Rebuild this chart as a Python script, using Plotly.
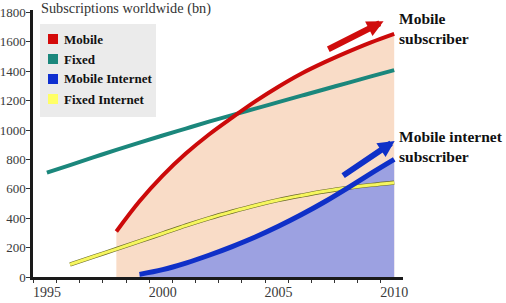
import plotly.graph_objects as go

# ---------------- data ----------------
mobile_years = list(range(1998, 2011))
mobile = [310, 515, 690, 840, 970, 1085, 1195, 1295, 1385, 1462, 1532, 1597, 1655]

fixed_years = list(range(1995, 2011))
fixed = [710, 762, 814, 865, 915, 963, 1010, 1057, 1102, 1146, 1190, 1234, 1278, 1321, 1365, 1408]

mobile_int_years = list(range(1999, 2011))
mobile_internet = [18, 50, 95, 148, 207, 272, 345, 425, 512, 607, 705, 800]

fixed_int_years = list(range(1996, 2011))
fixed_internet = [85, 138, 190, 243, 296, 350, 400, 445, 487, 524, 555, 583, 607, 626, 642]

legend_names = ["Mobile", "Fixed", "Mobile Internet", "Fixed Internet"]
legend_colors = ["#d40a0a", "#1b877c", "#0f2fd0", "#ffff66"]

x_ticks = [1995, 2000, 2005, 2010]
y_ticks = list(range(0, 1801, 200))

title_text = "Subscriptions worldwide (bn)"
label_mobile = "Mobile<br>subscriber"
label_mobile_int = "Mobile internet<br>subscriber"

# arrows (tail -> head) in data units
red_arrow = dict(tail=(2007.09, 1545), head=(2009.54, 1740))
blue_arrow = dict(tail=(2007.73, 683), head=(2010.02, 926))

# ---------------- layout geometry ----------------
W, H = 506, 303
L, R, T, B = 33, 103, 10, 26
PW, PH = W - L - R, H - T - B


def px(xp):
    return (xp - L) / PW


def py(yp):
    return (H - B - yp) / PH


SERIF = "Liberation Serif"

RED = "#cc0a0a"
TEAL = "#1b877c"
BLUE = "#0f30c8"
YELLOW = "#f6f65e"
YELLOW_EDGE = "#6a6a28"
PEACH = "#f9dcc7"
PERI = "#9ca1e1"

fig = go.Figure()

# fills
fig.add_trace(go.Scatter(x=mobile_years, y=mobile, mode="lines", line=dict(width=0, shape="spline"),
                         fill="tozeroy", fillcolor=PEACH, showlegend=False, hoverinfo="skip"))
fig.add_trace(go.Scatter(x=mobile_int_years, y=mobile_internet, mode="lines", line=dict(width=0, shape="spline"),
                         fill="tozeroy", fillcolor=PERI, showlegend=False, hoverinfo="skip"))

# lines
fig.add_trace(go.Scatter(x=fixed_years, y=fixed, mode="lines", name="Fixed",
                         line=dict(color=TEAL, width=4, shape="spline"), showlegend=False))
fig.add_trace(go.Scatter(x=fixed_int_years, y=fixed_internet, mode="lines",
                         line=dict(color=YELLOW_EDGE, width=4.2, shape="spline"), showlegend=False, hoverinfo="skip"))
fig.add_trace(go.Scatter(x=fixed_int_years, y=fixed_internet, mode="lines", name="Fixed Internet",
                         line=dict(color=YELLOW, width=3, shape="spline"), showlegend=False))
fig.add_trace(go.Scatter(x=mobile_years, y=mobile, mode="lines", name="Mobile",
                         line=dict(color=RED, width=4, shape="spline"), showlegend=False))
fig.add_trace(go.Scatter(x=mobile_int_years, y=mobile_internet, mode="lines", name="Mobile Internet",
                         line=dict(color=BLUE, width=5, shape="spline"), showlegend=False))

shapes = []
annotations = []

# manual legend
shapes.append(dict(type="rect", xref="paper", yref="paper",
                   x0=px(40), x1=px(156), y0=py(117), y1=py(24),
                   fillcolor="#ebebeb", line=dict(width=0), layer="above"))
for i, (name, col) in enumerate(zip(legend_names, legend_colors)):
    cy = 39 + 20 * i
    shapes.append(dict(type="rect", xref="paper", yref="paper",
                       x0=px(48), x1=px(58), y0=py(cy + 5), y1=py(cy - 5),
                       fillcolor=col, line=dict(width=0), layer="above"))
    annotations.append(dict(xref="paper", yref="paper", x=px(62), y=py(cy),
                            xanchor="left", yanchor="middle", showarrow=False,
                            text="<b>%s</b>" % name,
                            font=dict(family=SERIF, size=13, color="#111")))

# title
annotations.append(dict(xref="paper", yref="paper", x=px(39), y=py(8.5),
                        xanchor="left", yanchor="middle", showarrow=False,
                        text=title_text, font=dict(family=SERIF, size=14.3, color="#333")))

# right labels
annotations.append(dict(xref="paper", yref="paper", x=px(397), y=py(29),
                        xanchor="left", yanchor="middle", align="left", showarrow=False,
                        text="<b>%s</b>" % label_mobile,
                        font=dict(family=SERIF, size=15.5, color="#111")))
annotations.append(dict(xref="paper", yref="paper", x=px(397), y=py(146.5),
                        xanchor="left", yanchor="middle", align="left", showarrow=False,
                        text="<b>%s</b>" % label_mobile_int,
                        font=dict(family=SERIF, size=15.5, color="#111")))

# arrows
for arr, col in ((red_arrow, "#d00d0d"), (blue_arrow, "#0f30c8")):
    annotations.append(dict(xref="x", yref="y", axref="x", ayref="y",
                            x=arr["head"][0], y=arr["head"][1],
                            ax=arr["tail"][0], ay=arr["tail"][1],
                            text="", showarrow=True, arrowhead=2, arrowsize=0.55,
                            arrowwidth=6, arrowcolor=col, standoff=0, startstandoff=0))

fig.update_layout(
    width=W, height=H,
    margin=dict(l=L, r=R, t=T, b=B, pad=0, autoexpand=False),
    paper_bgcolor="white", plot_bgcolor="white",
    showlegend=False,
    shapes=shapes, annotations=annotations,
    font=dict(family=SERIF, size=14, color="#333"),
)

fig.update_xaxes(range=[1994.4, 2010.38], tickvals=x_ticks, ticktext=[str(v) for v in x_ticks],
                 automargin=False,
                 ticks="", ticklen=0,
                 minor=dict(ticks="outside", tick0=1995.42, dtick=1, ticklen=3, tickcolor="#333", tickwidth=1),
                 showline=True, linecolor="#1a1a1a", linewidth=2.5, showgrid=False, zeroline=False,
                 tickfont=dict(family=SERIF, size=14, color="#3a3a3a"))
fig.update_yaxes(range=[0, 1817], tickvals=y_ticks, ticks="outside", ticklen=4, tickcolor="#333",
                 automargin=False, ticklabelstandoff=-2,
                 showline=True, linecolor="#1a1a1a", linewidth=2.5, showgrid=False, zeroline=False,
                 tickfont=dict(family=SERIF, size=13, color="#3a3a3a"))

fig.write_html("out.html")
